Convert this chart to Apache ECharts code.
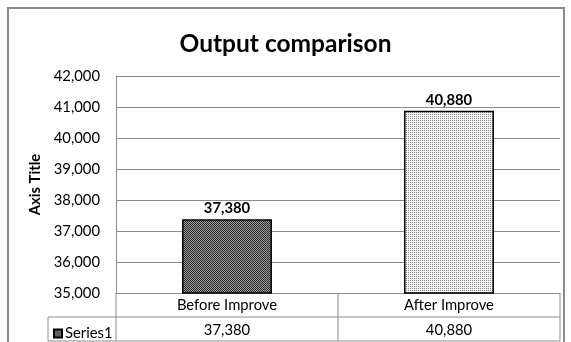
<!DOCTYPE html>
<html>
<head>
<meta charset="utf-8">
<script src="https://cdn.jsdelivr.net/npm/echarts@6/dist/echarts.min.js"></script>
<style>html,body{margin:0;padding:0;background:#fff}#c{width:571px;height:342px}</style>
</head>
<body>
<div id="c"></div>
<script>
var titleText = 'Output comparison';
var categories = ['Before Improve', 'After Improve'];
var values = [37380, 40880];
var seriesName = 'Series1';
var yTicks = [35000, 36000, 37000, 38000, 39000, 40000, 41000, 42000];

function fmt(v){ return Number(v).toLocaleString('en-US'); }
function makePattern(a, b, fill){
  var c = document.createElement('canvas'); c.width = 2; c.height = 2;
  var g = c.getContext('2d');
  g.fillStyle = b; g.fillRect(0,0,2,2);
  g.fillStyle = a; g.fillRect(0,0,1,1);
  if (fill) g.fillRect(1,1,1,1);
  return c;
}
var pat1 = makePattern('#2a2a2a', '#9a9a9a', true);
var pat2 = makePattern('#8a8a8a', '#f4f4f4', false);
var FONT = 'Lato';
var FS = 14.8;
var chart = echarts.init(document.getElementById('c'));
var option = {
  animation: false,
  textStyle: { fontFamily: FONT, color: '#000' },
  title: { text: titleText, left: 'center', top: 27, textStyle: { fontFamily: FONT, fontSize: 24.5, fontWeight: 'bold', color: '#000' } },
  legend: { data: [seriesName], left: 48, top: 321, itemWidth: 8, itemHeight: 8, itemGap: 3, icon: 'rect',
    textStyle: { fontFamily: FONT, fontSize: FS, color: '#000', padding: [0,0,0,-2] } },
  grid: { left: 116, right: 11, top: 76, bottom: 49, containLabel: false },
  xAxis: [
    { type: 'category', data: categories, axisTick: { show: false },
      axisLine: { lineStyle: { color: '#8c8c8c', width: 1 } },
      axisLabel: { fontFamily: FONT, fontSize: FS, color: '#000', margin: 5 } },
    { type: 'category', data: categories, position: 'bottom', offset: 24, axisTick: { show: false },
      axisLine: { show: false },
      axisLabel: { fontFamily: FONT, fontSize: FS, color: '#000', margin: 6,
        formatter: function(v, i){ return fmt(values[i]); } } }
  ],
  yAxis: { type: 'value', min: yTicks[0], max: yTicks[yTicks.length-1], interval: 1000,
    name: 'Axis Title', nameLocation: 'middle', nameGap: 68, nameRotate: 90,
    nameTextStyle: { fontFamily: FONT, fontSize: FS, fontWeight: 'bold', color: '#000' },
    axisLine: { show: true, lineStyle: { color: '#8c8c8c' } }, axisTick: { show: false },
    splitLine: { lineStyle: { color: '#8c8c8c', width: 1 } },
    axisLabel: { fontFamily: FONT, fontSize: FS, color: '#000', margin: 16, formatter: function(v){ return fmt(v); } } },
  series: [{
    name: seriesName, type: 'bar', barWidth: '40.5%',
    data: values.map(function(v, i){ return { value: v, itemStyle: { color: { image: i === 0 ? pat1 : pat2, repeat: 'repeat' } } }; }),
    itemStyle: { color: { image: pat1, repeat: 'repeat' }, borderColor: '#000', borderWidth: 1.5 },
    label: { show: true, position: 'top', distance: 3, fontFamily: FONT, fontSize: FS, fontWeight: 'bold', color: '#000',
      formatter: function(p){ return fmt(p.value); } }
  }]
};
chart.setOption(option);

// data-table borders, positioned from the chart's own scales
var c0 = chart.convertToPixel({ xAxisIndex: 0 }, 0);
var c1 = chart.convertToPixel({ xAxisIndex: 0 }, 1);
var band = c1 - c0;
var xl = c0 - band/2, xm = c0 + band/2, xr = c1 + band/2;
var y0 = chart.convertToPixel({ yAxisIndex: 0 }, yTicks[0]);
var rowH = 24;
var tc = '#8c8c8c';
function ln(x1,y1,x2,y2){ return { type: 'line', shape: { x1:x1, y1:y1, x2:x2, y2:y2 }, style: { stroke: tc, lineWidth: 1 }, silent: true }; }
chart.setOption({ graphic: [
  { type: 'rect', shape: { x: 8, y: 8, width: 556, height: 340 }, style: { fill: null, stroke: '#8c8c8c', lineWidth: 2 }, silent: true },
  ln(xl, y0, xl, y0 + 2*rowH),
  ln(xm, y0, xm, y0 + 2*rowH),
  ln(xr, y0, xr, y0 + 2*rowH),
  ln(48, y0 + rowH, xr, y0 + rowH),
  ln(48, y0 + 2*rowH, xr, y0 + 2*rowH),
  ln(48, y0 + rowH, 48, y0 + 2*rowH)
]});
</script>
</body>
</html>
